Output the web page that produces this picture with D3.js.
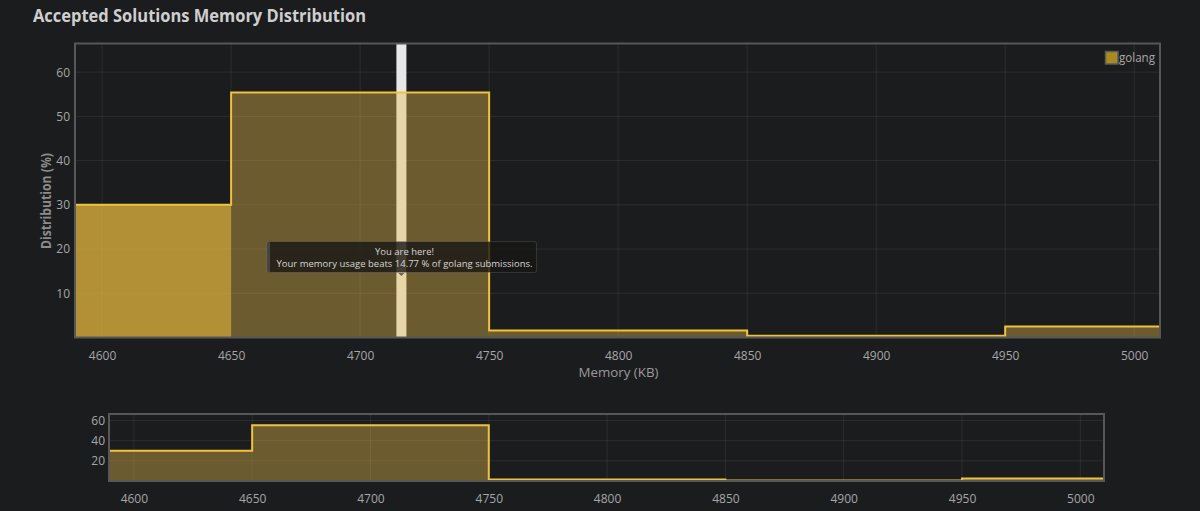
<!DOCTYPE html>
<html>
<head>
<meta charset="utf-8">
<script src="https://cdn.jsdelivr.net/npm/d3@7"></script>
<style>
  html, body { margin: 0; padding: 0; background: #1b1c1e; }
  svg { display: block; }
  text { font-family: "Open Sans", "Noto Sans", sans-serif; }
</style>
</head>
<body>
<svg id="chart" width="1200" height="511"></svg>
<script>
// Memory histogram bins (KB) and share of accepted solutions (%)
const binStarts = [4550, 4650, 4750, 4850, 4950];
const binEnds = [4650, 4750, 4850, 4950, 5050];
const distribution = [30.0, 55.4, 1.6, 0.4, 2.5];
const highlightedBin = 0;

// Axis settings
const xExtent = [4589.5, 5010];
const xTicks = [4600, 4650, 4700, 4750, 4800, 4850, 4900, 4950, 5000];
const mainYTicks = [10, 20, 30, 40, 50, 60];
const navYTicks = [20, 40, 60];

// Current submission
const language = "golang";
const yourMemory = 4716;
const beatsPercent = 14.77;

const titleText = "Accepted Solutions Memory Distribution";
const xTitle = "Memory (KB)";
const yTitle = "Distribution (%)";

const svg = d3.select("#chart");
const bins = binStarts.map((s, i) => ({ x0: s, x1: binEnds[i], v: distribution[i], i }));
const yMax = d3.max(distribution) * 1.2;

const gold = "#f0c33e";
const fillDark = "rgba(232,188,74,0.4)";
const fillBright = "rgba(226,181,60,0.76)";
const gridColor = "rgba(255,255,255,0.075)";
const tickColor = "#a6a6a6";

function fit(sel, w) {
  const len = sel.node().getComputedTextLength();
  if (Math.abs(len - w) > 1) sel.attr("textLength", w).attr("lengthAdjust", "spacingAndGlyphs");
  return sel;
}

// Title
fit(svg.append("text")
  .attr("x", 33).attr("y", 22)
  .attr("fill", "#cfcfcf").attr("font-size", 17.5).attr("font-weight", 700)
  .text(titleText), 333);

function drawPanel(opts) {
  const { left, right, top, bottom, yTicks, main, clipId } = opts;
  const x = d3.scaleLinear().domain(xExtent).range([left, right]);
  const y = d3.scaleLinear().domain([0, yMax]).range([bottom, top]);
  const g = svg.append("g");

  g.append("clipPath").attr("id", clipId)
    .append("rect").attr("x", left).attr("y", top).attr("width", right - left).attr("height", bottom - top);

  // Grid
  const grid = g.append("g").attr("clip-path", `url(#${clipId})`);
  grid.selectAll("line.vx").data(xTicks).join("line")
    .attr("x1", d => x(d)).attr("x2", d => x(d)).attr("y1", top).attr("y2", bottom)
    .attr("stroke", gridColor).attr("stroke-width", 1);
  grid.selectAll("line.hy").data(yTicks).join("line")
    .attr("x1", left).attr("x2", right).attr("y1", d => y(d)).attr("y2", d => y(d))
    .attr("stroke", gridColor).attr("stroke-width", 1);

  const plot = g.append("g").attr("clip-path", `url(#${clipId})`);

  // Marker for the current submission, behind the translucent bars
  if (main) {
    plot.append("rect")
      .attr("x", x(yourMemory) - 5).attr("width", 10)
      .attr("y", top).attr("height", bottom - top)
      .attr("fill", "#e8e8e8");
  }

  plot.selectAll("rect.bin").data(bins).join("rect")
    .attr("x", d => x(d.x0)).attr("width", d => x(d.x1) - x(d.x0))
    .attr("y", d => y(d.v)).attr("height", d => y(0) - y(d.v))
    .attr("fill", d => (main && d.i === highlightedBin) ? fillBright : fillDark);

  const stepPts = bins.map(d => [d.x0, d.v]).concat([[bins[bins.length - 1].x1, bins[bins.length - 1].v]]);
  const line = d3.line().x(d => x(d[0])).y(d => y(d[1])).curve(d3.curveStepAfter);
  plot.append("path").attr("d", line(stepPts))
    .attr("fill", "none").attr("stroke", gold).attr("stroke-width", 2);

  // Frame
  g.append("rect")
    .attr("x", left).attr("y", top).attr("width", right - left).attr("height", bottom - top)
    .attr("fill", "none").attr("stroke", "#575757").attr("stroke-width", 2);

  // Axes
  const xAxis = d3.axisBottom(x).tickValues(xTicks).tickFormat(d3.format("d"))
    .tickSize(0).tickPadding(main ? 14 : 13);
  const xg = g.append("g").attr("transform", `translate(0,${bottom})`).call(xAxis);
  const yAxis = d3.axisLeft(y).tickValues(yTicks).tickFormat(d3.format("d"))
    .tickSize(0).tickPadding(main ? 5 : 4);
  const yg = g.append("g").attr("transform", `translate(${left},0)`).call(yAxis);
  [xg, yg].forEach(a => {
    a.select(".domain").remove();
    a.selectAll("text").attr("fill", tickColor).attr("font-size", 12)
      .attr("font-family", "\"Open Sans\", sans-serif");
  });
  return { x, y };
}

const mainPanel = drawPanel({ left: 75, right: 1160, top: 43.5, bottom: 337.5, yTicks: mainYTicks, main: true, clipId: "clipMain" });
drawPanel({ left: 109, right: 1104, top: 414, bottom: 481, yTicks: navYTicks, main: false, clipId: "clipNav" });

// Axis titles
fit(svg.append("text")
  .attr("x", 618.5).attr("y", 377).attr("text-anchor", "middle")
  .attr("fill", "#9a9a9a").attr("font-size", 13.5)
  .text(xTitle), 80);

fit(svg.append("text")
  .attr("transform", "translate(51,201) rotate(-90)").attr("text-anchor", "middle")
  .attr("fill", "#8c8c8c").attr("font-size", 13.5).attr("font-weight", 700)
  .text(yTitle), 96);

// Legend
svg.append("rect").attr("x", 1105.5).attr("y", 51.5).attr("width", 12.5).attr("height", 12.5)
  .attr("fill", "#a88a1e").attr("stroke", "#5a5a5a").attr("stroke-width", 1.5);
fit(svg.append("text").attr("x", 1119).attr("y", 62)
  .attr("fill", "#a8a8a8").attr("font-size", 12)
  .text(language), 36);

// Tooltip
const mx = mainPanel.x(yourMemory);
const tip = svg.append("g");
tip.append("rect").attr("x", 266.5).attr("y", 241.5).attr("width", 270).attr("height", 31).attr("rx", 2)
  .attr("fill", "rgba(22,22,20,0.8)").attr("stroke", "rgba(255,255,255,0.12)").attr("stroke-width", 1);
tip.append("rect").attr("x", 266).attr("y", 242).attr("width", 4).attr("height", 30)
  .attr("fill", "rgba(110,110,105,0.45)");
tip.append("path")
  .attr("d", `M${mx - 3},273 L${mx + 3},273 L${mx},276 Z`)
  .attr("fill", "rgba(22,22,20,0.6)");
fit(tip.append("text").attr("x", 404.5).attr("y", 255).attr("text-anchor", "middle")
  .attr("fill", "#d6d6d6").attr("font-size", 9)
  .text("You are here!"), 59);
fit(tip.append("text").attr("x", 404.5).attr("y", 267).attr("text-anchor", "middle")
  .attr("fill", "#d6d6d6").attr("font-size", 9)
  .text(`Your memory usage beats ${beatsPercent} % of ${language} submissions.`), 256);
</script>
</body>
</html>
